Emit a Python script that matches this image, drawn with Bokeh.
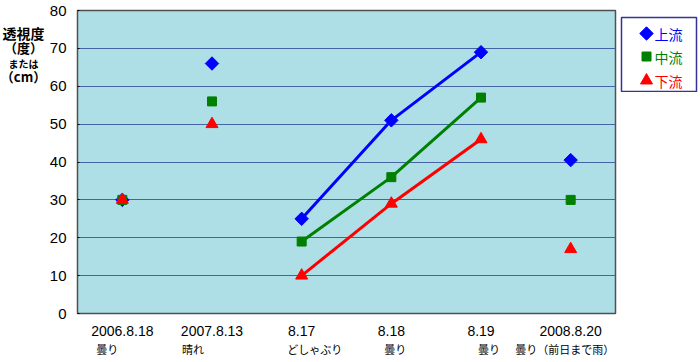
import math
from bokeh.plotting import figure
from bokeh.models import Range1d, FactorRange
from bokeh.layouts import row, column
from bokeh.core.properties import value
from bokeh.embed import file_html
from bokeh.resources import INLINE

categories = ["2006.8.18", "2007.8.13", "8.17", "8.18", "8.19", "2008.8.20"]
weather = ["曇り", "晴れ", "どしゃぶり", "曇り", "曇り", "曇り（前日まで雨）"]
upstream = [30, 66, 25, 51, 69, 40.5]
midstream = [30, 56, 19, 36, 57, 30]
downstream = [30, 50, 10, 29, 46, 17]
series_names = ["上流", "中流", "下流"]
series_colors = ["#0000FF", "#008000", "#FF0000"]
series_markers = ["square", "square", "triangle"]
series_angles = [math.pi / 4, 0, 0]
series_sizes = [9.5, 9, 12]
y_ticks = [0, 10, 20, 30, 40, 50, 60, 70, 80]
y_title = ["透視度", "（度）", "または", "（cm）"]
y_title_sizes = ["14px", "13px", "10px", "13px"]
weather_offsets = [-15, -19, 13, 4, 8, -6]

FONT = "'Liberation Sans', 'Noto Sans CJK JP', sans-serif"
JFONT = "'Noto Sans CJK JP', sans-serif"

H = 362
TW = 46
BL = 77 - TW

# left title panel
t = figure(title=None, frame_width=TW, frame_height=H, x_range=Range1d(0, TW), y_range=Range1d(H, 0),
           x_axis_type=None, y_axis_type=None,
           output_backend="svg", toolbar_location=None, min_border=0)
t.grid.visible = False
t.outline_line_color = None
t.text(x=[23, 23, 23, 23], y=[15, 30, 46, 59], text=y_title,
       text_font=value(JFONT), text_font_size=y_title_sizes,
       text_align="center", text_baseline="middle", text_color="#000000",
       text_font_style="bold")

# main chart
xr = FactorRange(*categories)
p = figure(title=None, frame_width=538, frame_height=303, x_range=xr, y_range=Range1d(0, 80),
           output_backend="svg", toolbar_location=None,
           min_border_left=BL, min_border_right=4, min_border_top=10, min_border_bottom=0)
p.background_fill_color = "#aedfe6"
p.border_fill_color = "white"
p.outline_line_color = "#505050"
p.outline_line_width = 1.5
p.xgrid.grid_line_color = None
p.ygrid.grid_line_color = "#4464a4"
p.ygrid.grid_line_width = 1
p.yaxis.ticker = y_ticks
p.yaxis.major_label_text_font = FONT
p.yaxis.major_label_text_font_size = "15px"
p.yaxis.major_tick_out = 0
p.yaxis.minor_tick_out = 0
p.yaxis.major_label_standoff = 11
p.yaxis.axis_line_color = None
p.xaxis.major_label_text_font = FONT
p.xaxis.major_label_text_font_size = "14px"
p.xaxis.major_tick_out = 0
p.xaxis.major_tick_in = 0
p.xaxis.axis_line_color = None
p.xaxis.major_label_standoff = 12
p.axis.major_label_text_color = "#000000"

data = [upstream, midstream, downstream]
for vals, col in zip(data, series_colors):
    p.line(x=categories[2:5], y=vals[2:5], line_color=col, line_width=3)
for vals, col, mk, ang, sz in zip(data, series_colors, series_markers, series_angles, series_sizes):
    p.scatter(x=categories, y=vals, marker=mk, angle=ang, size=sz, fill_color=col, line_color=col)

# weather line under the dates
w = figure(title=None, frame_width=538, frame_height=20, x_range=xr, y_range=Range1d(20, 0),
           x_axis_type=None, y_axis_type=None,
           output_backend="svg", toolbar_location=None,
           min_border_left=BL, min_border_right=4, min_border_top=0, min_border_bottom=0)
w.grid.visible = False
w.outline_line_color = None
w.text(x=categories, y=[10] * len(categories), text=weather, text_font=value(JFONT),
       x_offset=weather_offsets,
       text_font_size="11px", text_align="center", text_baseline="middle", text_color="#000000")

# legend panel
lg = figure(title=None, frame_width=75, frame_height=75, x_range=Range1d(0, 75), y_range=Range1d(75, 0),
            x_axis_type=None, y_axis_type=None,
            output_backend="svg", toolbar_location=None,
            min_border_left=2, min_border_right=3, min_border_top=17, min_border_bottom=0)
lg.grid.visible = False
lg.outline_line_color = "#333399"
lg.outline_line_width = 1.5
lg.background_fill_color = "white"
ly = [16, 39, 63]
for name, col, mk, ang, sz, yy in zip(series_names, series_colors, series_markers, series_angles, series_sizes, ly):
    lg.scatter(x=[25], y=[yy], marker=mk, angle=ang, size=sz, fill_color=col, line_color=col)
    lg.text(x=[33], y=[yy], text=[name], text_color=col, text_font=value(JFONT),
            text_font_size="14px", text_baseline="middle", text_align="left")

layout = row(t, column(p, w), lg)
open("out.html", "w").write(file_html(layout, INLINE))
